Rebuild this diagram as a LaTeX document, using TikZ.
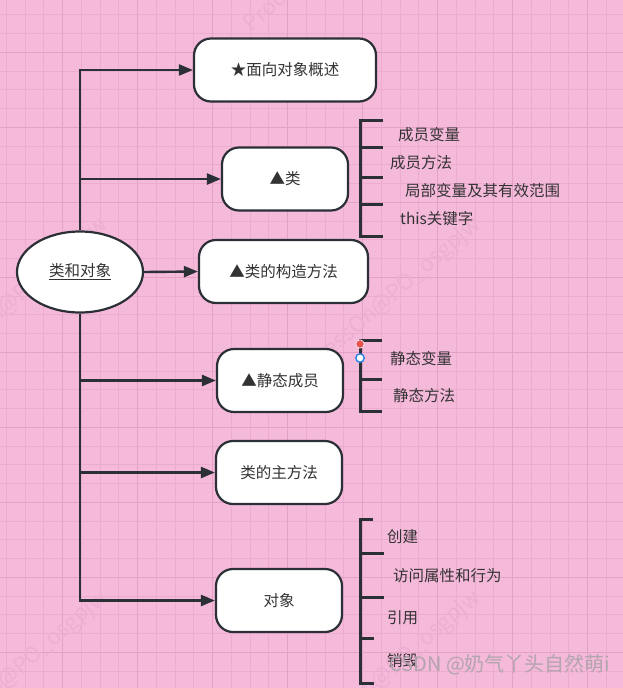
\documentclass[tikz,border=0pt]{standalone}
\usepackage{fontspec}
\setmainfont{Noto Sans CJK SC}
\usetikzlibrary{positioning, arrows.meta, shapes.geometric}
\definecolor{bgPink}{RGB}{245,185,218}
\definecolor{gridMinor}{RGB}{236,172,208}
\definecolor{gridMajor}{RGB}{227,161,198}
\definecolor{markPink}{RGB}{237,175,210}
\definecolor{inkDark}{HTML}{2B2F36}
\definecolor{textGray}{HTML}{333333}
\definecolor{handleRed}{RGB}{232,82,82}
\definecolor{handleBlue}{RGB}{40,130,230}
\definecolor{siteGray}{RGB}{178,165,174}

\begin{document}
\begin{tikzpicture}[
    x=1pt, y=-1pt,
    font=\fontsize{15.5}{18}\selectfont,
    box/.style={draw=inkDark, line width=2.2pt, rounded corners=17pt,
                fill=white, minimum height=63pt, text=textGray, inner sep=0pt},
    root/.style={ellipse, draw=inkDark, line width=2.2pt, fill=white,
                 minimum width=126pt, minimum height=81pt, text=textGray},
    arr/.style={-{Triangle[length=14pt, width=11pt]}, line width=2.4pt, draw=inkDark},
    brace/.style={line width=3pt, draw=inkDark},
    leaf/.style={anchor=west, inner sep=0pt, text=textGray},
    wm/.style={text=markPink, font=\fontsize{22}{22}\selectfont, rotate=41, inner sep=0pt},
  ]
    \useasboundingbox (0,0) rectangle (623,688);
    \fill[bgPink] (0,0) rectangle (623,688);

    \begin{scope}
      \clip (0,0) rectangle (623,688);
      \foreach \i in {0,...,33}
        \draw[gridMinor, line width=1pt] ({6.45+18.75*\i},0) -- ++(0,688);
      \foreach \j in {0,...,36}
        \draw[gridMinor, line width=1pt] (0,{14.8+18.75*\j}) -- ++(623,0);
      \foreach \i in {0,...,8}
        \draw[gridMajor, line width=1.4pt] ({62.7+75*\i},0) -- ++(0,688);
      \foreach \j in {0,...,8}
        \draw[gridMajor, line width=1.4pt] (0,{52.3+75*\j}) -- ++(623,0);

      \node[wm, anchor=east] (wm1) at (105,222) {ProcessOn@PO\_osgpjw};
      \node[wm, anchor=east] (wm2) at (478,222) {ProcessOn@PO\_osgpjw};
      \node[wm, anchor=east] (wm3) at (105,595) {ProcessOn@PO\_osgpjw};
      \node[wm, anchor=east] (wm4) at (478,595) {ProcessOn@PO\_osgpjw};
      \node[wm, anchor=west] (wm5) at (248,28)  {ProcessOn@PO\_osgpjw};
    \end{scope}

    \node[root] (obj) at (80,272) {\underline{类和对象}};

    \node[box, minimum width=182pt] (intro)  at (285,70)    {★面向对象概述};
    \node[box, minimum width=126pt] (cls)    at (285,179)   {▲类};
    \node[box, minimum width=169pt] (ctor)   at (283.5,271.5) {▲类的构造方法};
    \node[box, minimum width=126pt] (static) at (280,380.5) {▲静态成员};
    \node[box, minimum width=126pt] (mainm)  at (279,472.5) {类的主方法};
    \node[box, minimum width=126pt] (inst)   at (279,600.5) {对象};

    \draw[arr] (obj.north) |- (intro.west);
    \draw[arr] (obj.north) |- (cls.west);
    \draw[arr] (obj.east) -- (ctor.west);
    \draw[arr] (obj.south) |- (static.west);
    \draw[arr] (obj.south) |- (mainm.west);
    \draw[arr] (obj.south) |- (inst.west);

    \draw[brace] (383,120) -| (360,236) -- (383,236);
    \foreach \y in {147,177,204}
      \draw[brace] (360,\y) -- (383,\y);
    \node[leaf] (memvar) at (398,135) {成员变量};
    \node[leaf] (memfn)  at (390,163) {成员方法};
    \node[leaf] (locvar) at (405,191) {局部变量及其有效范围};
    \node[leaf] (thiskw) at (400,219) {this关键字};

    \draw[brace] (382,340) -| (360,411) -- (382,411);
    \draw[brace] (360,379) -- (382,379);
    \node[leaf] (stvar) at (390,359) {静态变量};
    \node[leaf] (stfn)  at (393,396) {静态方法};
    \fill[handleRed, draw=white, line width=0.6pt] (360,344) circle (4.2);
    \filldraw[fill=white, draw=handleBlue, line width=1.4pt] (360,358) circle (4.2);

    \draw[brace] (373,519) -| (360,683) -- (374,683);
    \draw[brace] (360,553) -- (384,553);
    \draw[brace] (360,597) -- (384,597);
    \draw[brace] (360,638) -- (374,638);
    \node[leaf] (mk)   at (387,537) {创建};
    \node[leaf] (use)  at (393,576) {访问属性和行为};
    \node[leaf] (ref)  at (387,618) {引用};
    \node[leaf] (kill) at (387,661) {销毁};

    \node[anchor=west, inner sep=0pt, text=siteGray, font=\fontsize{20}{20}\selectfont]
      (site) at (389,665) {CSDN @奶气丫头自然萌i};
  \end{tikzpicture}
\end{document}
